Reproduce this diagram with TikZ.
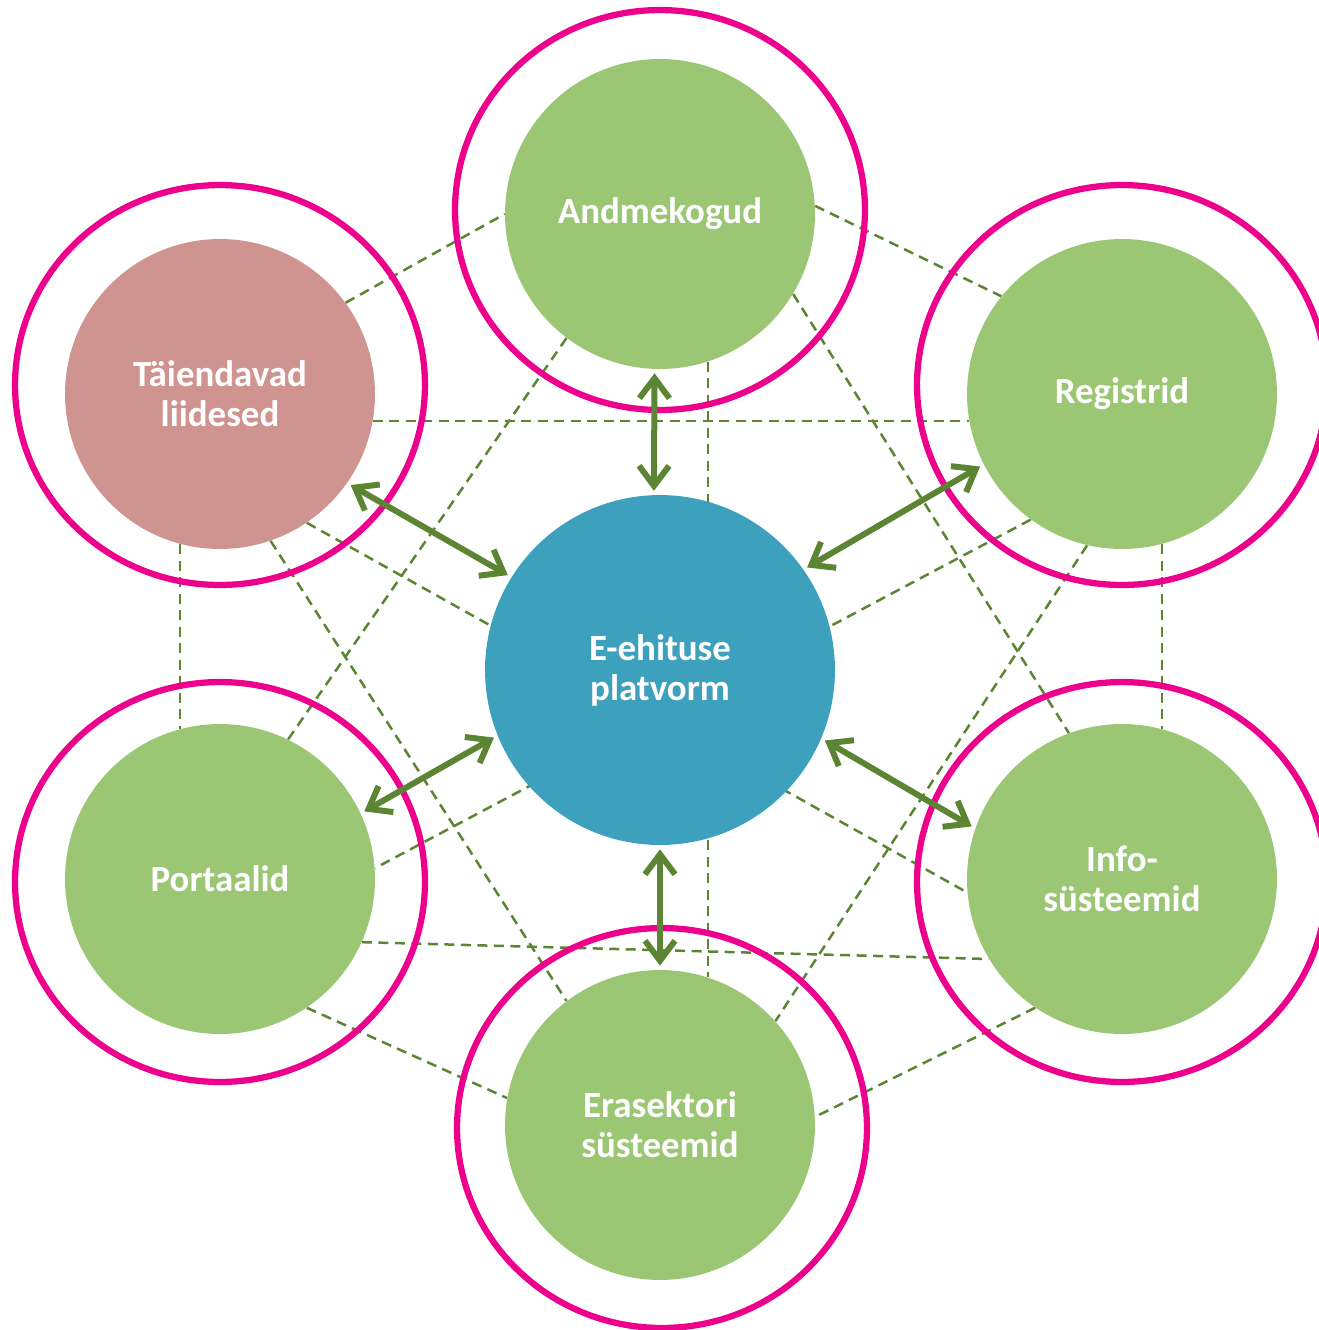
\documentclass[tikz,border=0pt]{standalone}
\usepackage{fontspec}
\setmainfont{Carlito}
\usetikzlibrary{arrows.meta,shapes.geometric,backgrounds}
\definecolor{rohe}{HTML}{9BC674}
\definecolor{roosa}{HTML}{EC008C}
\definecolor{sinine}{HTML}{3DA1BE}
\definecolor{punakas}{HTML}{CF9390}
\definecolor{oliiv}{HTML}{5B8533}
\begin{document}
\begin{tikzpicture}[x=0.02cm,y=-0.02cm,line join=round,
	ketas/.style={circle,fill=rohe,text=white,minimum size=6.2cm,inner sep=0pt,align=center,font=\fontsize{21}{22.8}\selectfont\bfseries},
	ring/.style={ellipse,draw=roosa,line width=0.125cm,minimum width=8.2cm,minimum height=8cm,inner sep=0pt},
	link/.style={draw=oliiv,line width=0.05cm,dash pattern=on 0.2cm off 0.13cm},
	nool/.style={draw=oliiv,line width=0.12cm,{Straight Barb[length=0.4cm,width=0.6cm]}-{Straight Barb[length=0.4cm,width=0.6cm]},shorten <=0.08cm,shorten >=0.08cm}]
	\useasboundingbox (0,0) rectangle (1319,1330);
	\node[ketas,fill=sinine,minimum size=7cm] (platv) at (660,670) {E-ehituse\\platvorm};
	\node[ketas] (andme) at (660,214) {Andmekogud};
	\node[ketas,fill=punakas] (taiend) at (220,394) {Täiendavad\\liidesed};
	\node[ketas] (regis) at (1122,394) {Registrid};
	\node[ketas] (portaal) at (220,879) {Portaalid};
	\node[ketas] (info) at (1122,879) {Info-\\süsteemid};
	\node[ketas] (erasek) at (660,1125) {Erasektori\\süsteemid};

	\foreach \cx/\cy/\n in {660/210/randme,220/385/rtaiend,1122/385/rregis,220/882/rportaal,1122/882/rinfo,662/1128/rerasek}
		\node[ring] (\n) at (\cx,\cy) {};

	\begin{scope}[on background layer]
		\foreach \a/\b in {taiend.36/andme.180,andme.3/regis.141,taiend.-10/regis.190,andme.-72/erasek.72,
			taiend.-105/portaal.105,regis.-75/info.75,andme.-127/portaal.64,andme.-31/info.110,
			taiend.-71/erasek.127,regis.-103/erasek.42,taiend.-56/info.185,regis.234/portaal.4,
			portaal.-24/info.211,portaal.-56/erasek.170,info.236/erasek.3}
			\draw[link] (\a)--(\b);
	\end{scope}

	\foreach \a/\b in {andme.268/platv.92,taiend.-35/platv.148,regis.207/platv.35,portaal.25/platv.202,info.161/platv.-23,erasek.90/platv.-90}
		\draw[nool] (\a)--(\b);
\end{tikzpicture}
\end{document}
